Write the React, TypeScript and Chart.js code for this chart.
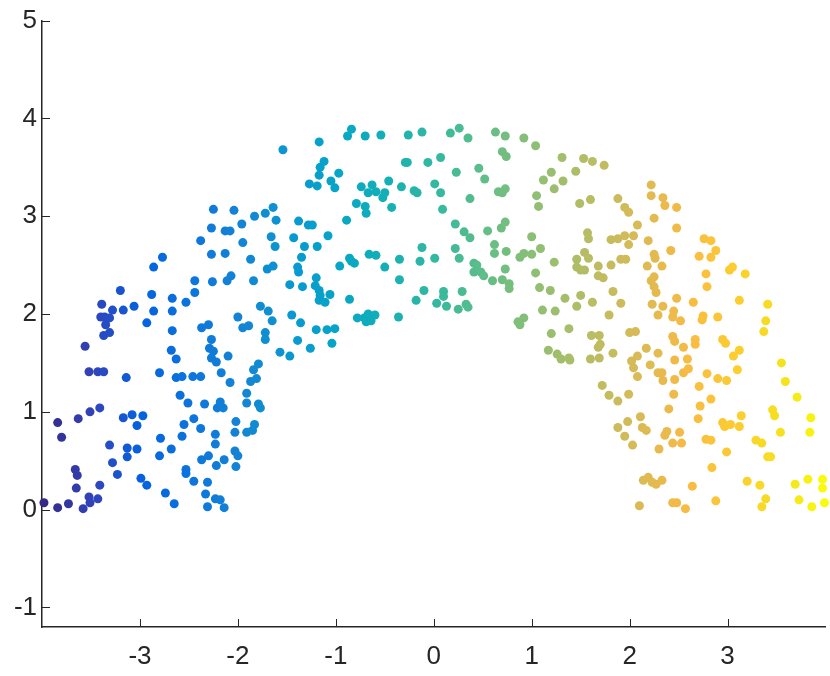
import { useEffect, useRef } from 'react';
import { Chart, registerables } from 'chart.js';

Chart.register(...registerables);

// ---- data ----
const pointX = [
  -3.98, -3.84, -3.84, -3.80, -3.73, -3.66, -3.64, -3.65, -3.63, -3.58,
  -3.56, -3.52, -3.52, -3.51, -3.51, -3.43, -3.43, -3.41, -3.41, -3.40,
  -3.39, -3.37, -3.37, -3.36, -3.35, -3.31, -3.31, -3.31, -3.28, -3.28,
  -3.23, -3.20, -3.17, -3.17, -3.14, -3.13, -3.13, -3.08, -3.06, -3.03,
  -3.03, -2.99, -2.97, -2.93, -2.93, -2.88, -2.86, -2.86, -2.80, -2.80,
  -2.79, -2.77, -2.74, -2.68, -2.68, -2.67, -2.67, -2.67, -2.65, -2.63,
  -2.63, -2.59, -2.57, -2.57, -2.55, -2.53, -2.53, -2.53, -2.51, -2.46,
  -2.45, -2.45, -2.44, -2.44, -2.38, -2.38, -2.38, -2.37, -2.37, -2.34,
  -2.33, -2.31, -2.31, -2.30, -2.30, -2.29, -2.27, -2.27, -2.27, -2.26,
  -2.25, -2.25, -2.27, -2.23, -2.23, -2.23, -2.22, -2.22, -2.21, -2.18,
  -2.18, -2.17, -2.15, -2.14, -2.14, -2.13, -2.13, -2.11, -2.10, -2.08,
  -2.08, -2.07, -2.04, -2.03, -2.03, -2.02, -2.02, -2.00, -2.00, -1.96,
  -1.95, -1.95, -1.91, -1.91, -1.91, -1.89, -1.87, -1.87, -1.85, -1.84,
  -1.84, -1.83, -1.83, -1.81, -1.79, -1.79, -1.77, -1.77, -1.72, -1.72,
  -1.72, -1.70, -1.69, -1.66, -1.65, -1.64, -1.64, -1.62, -1.61, -1.57,
  -1.54, -1.47, -1.47, -1.45, -1.43, -1.39, -1.39, -1.38, -1.38, -1.36,
  -1.35, -1.34, -1.32, -1.28, -1.27, -1.26, -1.24, -1.21, -1.20, -1.20,
  -1.19, -1.19, -1.17, -1.17, -1.17, -1.17, -1.16, -1.16, -1.12, -1.11,
  -1.09, -1.08, -1.06, -1.05, -1.04, -1.01, -1.01, -0.97, -0.96, -0.89,
  -0.88, -0.86, -0.86, -0.84, -0.84, -0.81, -0.79, -0.78, -0.74, -0.71,
  -0.70, -0.70, -0.69, -0.69, -0.67, -0.67, -0.66, -0.64, -0.63, -0.60,
  -0.59, -0.59, -0.54, -0.52, -0.50, -0.50, -0.46, -0.43, -0.36, -0.35,
  -0.35, -0.33, -0.29, -0.27, -0.26, -0.20, -0.18, -0.17, -0.14, -0.12,
  -0.12, -0.10, -0.06, 0.01, 0.01, 0.03, 0.07, 0.07, 0.09, 0.10,
  0.10, 0.13, 0.17, 0.22, 0.22, 0.23, 0.25, 0.26, 0.26, 0.29,
  0.31, 0.33, 0.35, 0.35, 0.37, 0.37, 0.41, 0.44, 0.41, 0.46,
  0.48, 0.51, 0.52, 0.55, 0.60, 0.62, 0.62, 0.63, 0.66, 0.69,
  0.70, 0.70, 0.70, 0.73, 0.73, 0.73, 0.73, 0.74, 0.74, 0.77,
  0.77, 0.86, 0.88, 0.88, 0.92, 0.92, 0.92, 1.00, 1.00, 1.04,
  1.04, 1.05, 1.07, 1.08, 1.09, 1.11, 1.12, 1.17, 1.19, 1.20,
  1.20, 1.23, 1.23, 1.24, 1.26, 1.30, 1.31, 1.32, 1.34, 1.38,
  1.38, 1.39, 1.45, 1.46, 1.46, 1.46, 1.49, 1.50, 1.50, 1.53,
  1.54, 1.54, 1.57, 1.58, 1.58, 1.60, 1.60, 1.61, 1.62, 1.62,
  1.68, 1.68, 1.68, 1.69, 1.69, 1.70, 1.72, 1.73, 1.74, 1.79,
  1.79, 1.81, 1.81, 1.83, 1.83, 1.88, 1.88, 1.88, 1.88, 1.91,
  1.91, 1.95, 1.95, 1.95, 1.96, 1.98, 1.99, 1.99, 1.99, 2.00,
  2.02, 2.03, 2.04, 2.04, 2.06, 2.08, 2.08, 2.08, 2.10, 2.11,
  2.13, 2.14, 2.17, 2.17, 2.18, 2.19, 2.19, 2.21, 2.22, 2.22,
  2.22, 2.23, 2.23, 2.25, 2.25, 2.25, 2.25, 2.26, 2.27, 2.27,
  2.29, 2.29, 2.29, 2.30, 2.33, 2.33, 2.33, 2.34, 2.34, 2.34,
  2.36, 2.36, 2.38, 2.40, 2.42, 2.44, 2.44, 2.44, 2.44, 2.45,
  2.45, 2.46, 2.46, 2.46, 2.48, 2.48, 2.48, 2.48, 2.51, 2.52,
  2.53, 2.55, 2.55, 2.57, 2.59, 2.60, 2.64, 2.65, 2.67, 2.67,
  2.70, 2.71, 2.71, 2.72, 2.74, 2.75, 2.76, 2.78, 2.78, 2.79,
  2.79, 2.83, 2.83, 2.83, 2.83, 2.84, 2.88, 2.88, 2.90, 2.90,
  2.95, 2.95, 2.97, 2.98, 2.99, 2.99, 3.02, 3.05, 3.03, 3.06,
  3.10, 3.12, 3.12, 3.12, 3.14, 3.18, 3.20, 3.29, 3.33, 3.35,
  3.35, 3.37, 3.39, 3.39, 3.41, 3.41, 3.44, 3.46, 3.48, 3.54,
  3.55, 3.59, 3.69, 3.71, 3.73, 3.82, 3.84, 3.85, 3.86, 3.97,
  3.97, 3.99,
];

const pointY = [
  0.07, 0.89, 0.02, 0.74, 0.06, 0.41, 0.35, 0.22, 0.93, 0.01,
  1.67, 1.41, 0.13, 0.07, 1.00, 1.41, 0.11, 1.04, 0.25, 1.97,
  2.10, 1.41, 1.78, 1.97, 1.89, 1.96, 1.81, 0.66, 2.04, 0.48,
  0.36, 2.24, 2.04, 0.94, 1.35, 0.63, 0.54, 0.97, 2.08, 0.86,
  0.62, 0.32, 0.96, 1.91, 0.25, 2.20, 2.48, 2.03, 1.40, 0.55,
  0.73, 2.58, 0.17, 1.63, 0.62, 2.16, 2.03, 1.83, 0.06, 1.54,
  1.35, 1.17, 1.36, 0.75, 0.87, 2.12, 0.41, 0.37, 1.09, 1.36,
  0.93, 0.29, 2.34, 2.22, 2.75, 1.36, 0.83, 1.86, 0.51, 1.08,
  0.16, 0.28, 0.03, 1.89, 0.55, 1.65, 2.88, 2.61, 1.74, 2.33,
  3.07, 1.62, 1.55, 0.77, 0.67, 0.11, 1.51, 0.45, 1.04, 1.10,
  0.10, 1.40, 1.04, 0.51, 0.02, 2.85, 2.62, 2.34, 1.57, 2.85,
  1.30, 2.39, 3.06, 0.79, 0.60, 0.90, 0.44, 1.97, 0.55, 2.92,
  2.73, 1.86, 1.19, 1.09, 0.79, 1.88, 2.56, 1.31, 0.81, 2.34,
  1.43, 3.00, 0.87, 1.34, 1.49, 1.08, 1.04, 2.08, 3.03, 1.81,
  1.74, 2.46, 2.03, 2.79, 1.93, 3.09, 2.49, 2.69, 2.96, 1.61,
  3.68, 2.30, 1.57, 1.99, 2.78, 2.48, 1.73, 2.95, 2.43, 1.91,
  2.58, 2.28, 2.69, 2.91, 3.33, 1.65, 2.91, 2.29, 2.37, 1.84,
  3.31, 2.69, 3.76, 3.42, 2.24, 2.14, 3.50, 2.19, 3.56, 2.12,
  1.84, 2.80, 2.20, 3.36, 1.70, 3.29, 1.85, 3.44, 2.49, 2.96,
  3.82, 2.57, 2.15, 3.89, 2.54, 2.52, 3.13, 1.96, 3.30, 1.96,
  3.82, 3.10, 3.03, 1.92, 3.24, 2.00, 2.61, 1.93, 3.32, 1.99,
  3.25, 2.60, 3.83, 3.19, 3.24, 2.48, 3.36, 3.09, 1.97, 2.56,
  2.35, 3.30, 3.55, 3.55, 3.83, 3.26, 2.14, 3.24, 2.54, 3.86,
  2.68, 2.24, 3.55, 3.33, 2.57, 2.11, 3.60, 3.24, 3.07, 2.23,
  2.18, 2.08, 3.85, 2.92, 2.67, 3.45, 2.05, 3.90, 2.57, 2.23,
  2.84, 2.10, 2.07, 3.80, 2.78, 3.18, 2.52, 2.50, 2.43, 3.49,
  2.43, 2.39, 3.38, 2.85, 2.34, 2.71, 2.62, 3.86, 3.25, 2.88,
  3.66, 3.24, 2.35, 3.82, 3.28, 2.94, 2.46, 3.61, 2.64, 2.31,
  2.26, 1.92, 2.58, 1.89, 3.80, 2.62, 1.96, 2.79, 2.61, 3.72,
  2.42, 3.21, 3.10, 2.27, 2.67, 2.04, 3.37, 1.63, 2.24, 3.45,
  1.80, 3.28, 2.53, 2.03, 1.59, 1.54, 3.60, 3.36, 2.16, 1.85,
  1.55, 1.53, 3.46, 2.56, 2.48, 2.08, 3.13, 2.45, 2.19, 3.59,
  2.63, 2.45, 2.83, 2.77, 2.57, 3.17, 1.54, 1.78, 3.56, 2.12,
  2.49, 2.39, 1.66, 1.78, 1.55, 1.69, 1.27, 2.37, 3.52, 1.99,
  1.17, 2.76, 2.50, 2.23, 1.60, 3.18, 2.77, 1.11, 0.84, 2.56,
  2.11, 3.09, 2.80, 0.75, 2.56, 0.90, 3.04, 2.71, 1.18, 1.81,
  1.52, 0.66, 2.80, 1.45, 1.82, 2.91, 1.57, 1.36, 0.04, 0.95,
  0.84, 0.30, 1.65, 0.81, 2.49, 2.75, 0.33, 1.48, 3.32, 3.21,
  2.34, 2.10, 0.28, 2.98, 2.61, 2.38, 2.28, 2.57, 2.22, 0.26,
  1.99, 1.60, 1.40, 0.62, 2.49, 1.40, 0.30, 3.19, 2.08, 1.32,
  3.11, 0.76, 0.80, 1.03, 2.65, 1.97, 1.77, 0.68, 0.07, 2.03,
  1.18, 1.72, 1.53, 1.33, 3.09, 2.88, 2.16, 0.07, 0.79, 1.93,
  0.68, 1.66, 1.40, 0.01, 1.54, 1.44, 0.24, 2.12, 1.74, 1.69,
  0.93, 2.59, 1.26, 1.06, 1.94, 1.98, 2.77, 2.41, 0.72, 2.28,
  1.39, 0.71, 2.75, 2.58, 1.13, 0.43, 2.65, 0.09, 1.97, 1.34,
  1.74, 0.89, 0.85, 1.70, 1.32, 0.59, 2.45, 2.48, 0.87, 1.57,
  1.43, 2.14, 1.63, 0.85, 0.96, 2.41, 0.29, 0.71, 0.25, 0.68,
  0.03, 1.82, 1.93, 0.11, 2.10, 0.54, 0.54, 1.02, 0.96, 0.79,
  1.50, 1.31, 0.26, 1.15, 0.10, 0.31, 0.79, 0.94, 0.03, 0.31,
  0.22, 0.07,
];

const xTickValues = [-3, -2, -1, 0, 1, 2, 3];
const yTickValues = [-1, 0, 1, 2, 3, 4, 5];
const xLimits = [-4, 4];
const yLimits = [-1.2, 5];

// ---- styling ----
const AXIS_COLOR = '#262626';
const FONT_FAMILY = '"Liberation Sans", Arial, Helvetica, sans-serif';
const FONT_SIZE = 26;

// parula colormap anchors (every 4th entry of the 64-entry map)
const PARULA = [
  [0.2081, 0.1663, 0.5292],
  [0.1959, 0.2645, 0.7279],
  [0.0117, 0.3875, 0.8820],
  [0.0498, 0.4586, 0.8641],
  [0.0793, 0.5200, 0.8312],
  [0.0343, 0.5966, 0.8199],
  [0.0228, 0.6535, 0.7768],
  [0.0843, 0.6928, 0.7062],
  [0.2178, 0.7250, 0.6193],
  [0.3953, 0.7459, 0.5244],
  [0.5709, 0.7485, 0.4494],
  [0.7184, 0.7411, 0.3905],
  [0.8507, 0.7299, 0.3360],
  [0.9739, 0.7314, 0.2666],
  [0.9880, 0.8066, 0.1794],
  [0.9589, 0.8949, 0.1132],
  [0.9763, 0.9831, 0.0538],
];
const PARULA_POS = [0, 4, 8, 12, 16, 20, 24, 28, 32, 36, 40, 44, 48, 52, 56, 60, 63].map((i) => i / 63);

function parula(t: number): string {
  const v = Math.max(0, Math.min(1, t));
  let k = 0;
  while (k < PARULA_POS.length - 2 && v > PARULA_POS[k + 1]) k++;
  const a = PARULA_POS[k];
  const b = PARULA_POS[k + 1];
  const f = (v - a) / (b - a);
  const c = PARULA[k].map((ch, i) => Math.round(255 * (ch + (PARULA[k + 1][i] - ch) * f)));
  return `rgb(${c[0]},${c[1]},${c[2]})`;
}

const inwardTicks = {
  id: 'inwardTicks',
  afterDraw(chart: any) {
    const { ctx, chartArea, scales } = chart;
    const len = 8;
    ctx.save();
    ctx.strokeStyle = AXIS_COLOR;
    ctx.lineWidth = 1;
    ctx.beginPath();
    xTickValues.forEach((v) => {
      const px = Math.round(scales.x.getPixelForValue(v)) + 0.5;
      ctx.moveTo(px, chartArea.bottom);
      ctx.lineTo(px, chartArea.bottom - len);
    });
    yTickValues.forEach((v) => {
      const py = Math.round(scales.y.getPixelForValue(v)) + 0.5;
      ctx.moveTo(chartArea.left, py);
      ctx.lineTo(chartArea.left + len, py);
    });
    ctx.stroke();
    ctx.restore();
  },
};

export default function App() {
  const canvasRef = useRef<HTMLCanvasElement | null>(null);

  useEffect(() => {
    const canvas = canvasRef.current;
    if (!canvas) return;
    const xMin = Math.min(...pointX);
    const xMax = Math.max(...pointX);
    const points = pointX.map((x, i) => ({ x, y: pointY[i] }));
    const colors = pointX.map((x) => parula((x - xMin) / (xMax - xMin)));

    const chart = new Chart(canvas, {
      type: 'scatter',
      data: {
        datasets: [
          {
            data: points,
            backgroundColor: colors,
            borderWidth: 0,
            pointRadius: 4.5,
            pointHoverRadius: 4.5,
            clip: false,
          },
        ],
      },
      options: {
        animation: false,
        responsive: false,
        devicePixelRatio: 1,
        events: [],
        layout: { padding: { top: 18, right: 3, left: 0, bottom: 0 } },
        plugins: {
          legend: { display: false },
          tooltip: { enabled: false },
        },
        scales: {
          x: {
            type: 'linear',
            min: xLimits[0],
            max: xLimits[1],
            afterBuildTicks: (scale: any) => {
              scale.ticks = xTickValues.map((value) => ({ value }));
            },
            afterFit: (scale: any) => {
              scale.height = 49;
            },
            grid: { display: false, drawTicks: false },
            border: { display: true, color: AXIS_COLOR, width: 1.5 },
            ticks: {
              padding: 14,
              color: AXIS_COLOR,
              font: { family: FONT_FAMILY, size: FONT_SIZE },
              maxRotation: 0,
              autoSkip: false,
              callback: (v: any) => String(v),
            },
          },
          y: {
            type: 'linear',
            min: yLimits[0],
            max: yLimits[1],
            afterBuildTicks: (scale: any) => {
              scale.ticks = yTickValues.map((value) => ({ value }));
            },
            afterFit: (scale: any) => {
              scale.width = 42;
            },
            grid: { display: false, drawTicks: false },
            border: { display: true, color: AXIS_COLOR, width: 1.5 },
            ticks: {
              padding: 5,
              color: AXIS_COLOR,
              font: { family: FONT_FAMILY, size: FONT_SIZE },
              autoSkip: false,
              callback: (v: any) => String(v),
            },
          },
        },
      },
      plugins: [inwardTicks],
    });

    return () => chart.destroy();
  }, []);

  return (
    <div style={{ position: 'absolute', left: 0, top: 0, width: 830, height: 676, background: '#fff' }}>
      <canvas ref={canvasRef} width={830} height={676} style={{ display: 'block' }} />
    </div>
  );
}
